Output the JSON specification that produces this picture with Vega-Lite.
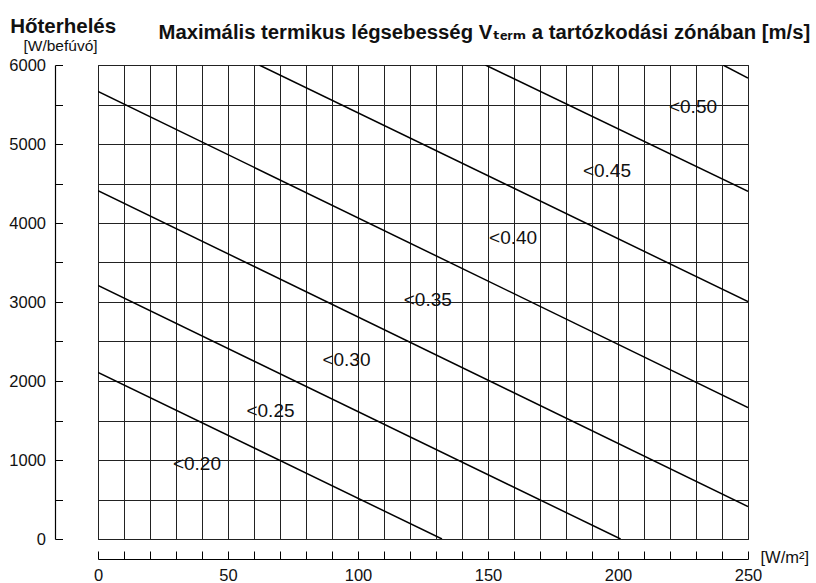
{
  "$schema": "https://vega.github.io/schema/vega-lite/v6.json",
  "width": 650,
  "height": 474,
  "autosize": {"type": "none"},
  "padding": {"left": 98, "top": 65, "right": 68, "bottom": 44},
  "background": "white",
  "config": {
    "view": {"stroke": "#222", "strokeWidth": 1},
    "font": "Liberation Sans",
    "axis": {"labelFont": "Liberation Sans", "titleFont": "Liberation Sans", "labelColor": "#111", "titleColor": "#111"}
  },
  "datasets": {
    "lines": [
      {"v": "<0.20", "x": 0, "y": 2110},
      {"v": "<0.20", "x": 132.3, "y": 0},
      {"v": "<0.25", "x": 0, "y": 3210},
      {"v": "<0.25", "x": 201, "y": 0},
      {"v": "<0.30", "x": 0, "y": 4410},
      {"v": "<0.30", "x": 250, "y": 410},
      {"v": "<0.35", "x": 0, "y": 5665},
      {"v": "<0.35", "x": 250, "y": 1665},
      {"v": "<0.40", "x": 62, "y": 6000},
      {"v": "<0.40", "x": 250, "y": 3005},
      {"v": "<0.45", "x": 149, "y": 6000},
      {"v": "<0.45", "x": 250, "y": 4400},
      {"v": "<0.50", "x": 240.4, "y": 6000},
      {"v": "<0.50", "x": 250, "y": 5835}
    ],
    "labels": [
      {"v": "<0.20", "x": 28.8, "y": 953},
      {"v": "<0.25", "x": 57.1, "y": 1623},
      {"v": "<0.30", "x": 86.3, "y": 2268},
      {"v": "<0.35", "x": 117.6, "y": 3027},
      {"v": "<0.40", "x": 150.4, "y": 3812},
      {"v": "<0.45", "x": 186.5, "y": 4660},
      {"v": "<0.50", "x": 219.6, "y": 5472}
    ]
  },
  "resolve": {"axis": {"x": "independent", "y": "independent"}},
  "layer": [
    {
      "data": {"name": "lines"},
      "mark": {"type": "line", "color": "#000", "strokeWidth": 1.5, "clip": true},
      "encoding": {
        "x": {
          "field": "x", "type": "quantitative",
          "scale": {"domain": [0, 250], "nice": false, "zero": false},
          "axis": {
            "orient": "bottom", "offset": 20,
            "values": [0,10,20,30,40,50,60,70,80,90,100,110,120,130,140,150,160,170,180,190,200,210,220,230,240,250],
            "format": "d",
            "labelExpr": "datum.value % 50 === 0 ? datum.label : ''",
            "labelOverlap": false, "labelFlush": false,
            "labelFontSize": 16.5, "labelPadding": 16,
            "tickSize": -8, "tickColor": "#000", "tickWidth": 1,
            "domainColor": "#000", "domainWidth": 1.2,
            "grid": false,
            "title": "[W/m²]", "titleFontSize": 16.5, "titleFontWeight": "normal",
            "titleAlign": "left", "titleBaseline": "alphabetic", "titleAngle": 0,
            "titleX": 662, "titleY": 3
          }
        },
        "y": {
          "field": "y", "type": "quantitative",
          "scale": {"domain": [0, 6000], "nice": false, "zero": false},
          "axis": {
            "orient": "left", "offset": 43,
            "values": [0,500,1000,1500,2000,2500,3000,3500,4000,4500,5000,5500,6000],
            "format": "d",
            "labelExpr": "datum.value % 1000 === 0 ? datum.label : ''",
            "labelOverlap": false, "labelFlush": false,
            "labelFontSize": 16.5, "labelPadding": 17, "labelBaseline": "middle",
            "tickSize": -7.5, "tickColor": "#000", "tickWidth": 1,
            "domainColor": "#000", "domainWidth": 1.2,
            "grid": false,
            "title": "Hőterhelés", "titleFontSize": 20.5, "titleFontWeight": "bold",
            "titleAngle": 0, "titleAlign": "left", "titleBaseline": "alphabetic",
            "titleX": -45.3, "titleY": -33
          }
        },
        "detail": {"field": "v", "type": "nominal"}
      }
    },
    {
      "data": {"name": "labels"},
      "mark": {"type": "text", "align": "left", "baseline": "middle", "fontSize": 19, "font": "Liberation Sans", "color": "#111"},
      "encoding": {
        "x": {
          "field": "x", "type": "quantitative",
          "axis": {
            "orient": "top",
            "values": [0,10,20,30,40,50,60,70,80,90,100,110,120,130,140,150,160,170,180,190,200,210,220,230,240,250],
            "grid": true, "gridColor": "#222", "gridWidth": 1, "gridOpacity": 1,
            "ticks": false, "labels": false, "domain": false,
            "title": "Maximális termikus légsebesség Vₜₑᵣₘ a tartózkodási zónában [m/s]",
            "titleFont": "Liberation Sans, DejaVu Sans", "titleFontSize": 20.3, "titleFontWeight": "bold",
            "titleAngle": 0, "titleAlign": "left", "titleBaseline": "alphabetic",
            "titleX": 60, "titleY": -27
          }
        },
        "y": {
          "field": "y", "type": "quantitative",
          "axis": {
            "orient": "right",
            "values": [0,500,1000,1500,2000,2500,3000,3500,4000,4500,5000,5500,6000],
            "grid": true, "gridColor": "#222", "gridWidth": 1, "gridOpacity": 1,
            "ticks": false, "labels": false, "domain": false,
            "title": "[W/befúvó]", "titleFontSize": 15.5, "titleFontWeight": "normal",
            "titleAngle": 0, "titleAlign": "left", "titleBaseline": "alphabetic",
            "titleX": -725, "titleY": -15
          }
        },
        "text": {"field": "v", "type": "nominal"}
      }
    }
  ]
}
